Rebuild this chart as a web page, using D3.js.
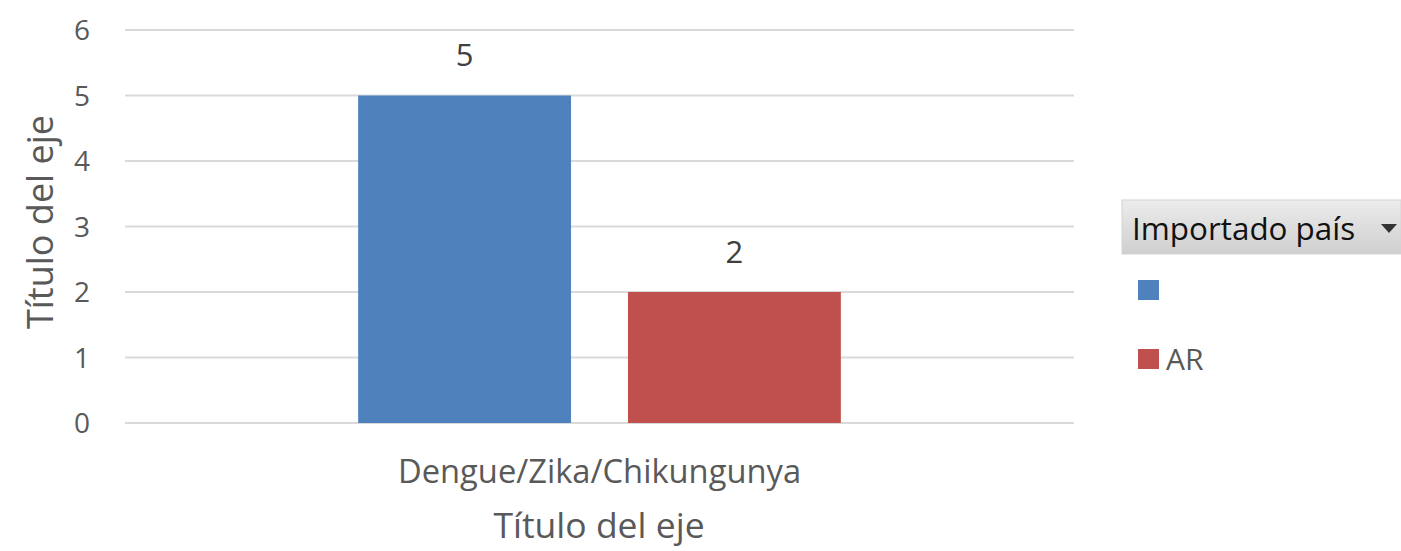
<!DOCTYPE html>
<html>
<head>
<meta charset="utf-8">
<script src="https://cdn.jsdelivr.net/npm/d3@7"></script>
<style>
  body { margin: 0; background: #fff; }
  text { font-family: "Open Sans", sans-serif; }
</style>
</head>
<body>
<script>
// datos del gráfico
let categorias = ["Dengue/Zika/Chikungunya"];
let series = ["", "AR"];
let valores = [[5, 2]]; // por categoría, un valor por serie
let ticksY = [0, 1, 2, 3, 4, 5, 6];
let colores = ["#4f81bd", "#c0504d"];

let WIDTH = 1401, HEIGHT = 551;
let svg = d3.select("body").append("svg")
            .attr("width", WIDTH)
            .attr("height", HEIGHT);

let mLeft = 125, mRight = 1074, mTop = 30, mBottom = 423;

let y = d3.scaleLinear().domain([0, 6]).range([mBottom, mTop]);
let x = d3.scaleBand().domain(categorias).range([mLeft, mRight])
          .paddingInner(0).paddingOuter(0.483);
let xs = d3.scaleBand().domain(series).range([0, x.bandwidth()])
           .paddingInner(0.211).paddingOuter(0);

// grilla
svg.append("g").selectAll("line").data(ticksY).enter().append("line")
   .attr("x1", mLeft).attr("x2", mRight)
   .attr("y1", d => y(d)).attr("y2", d => y(d))
   .attr("stroke", "#d9d9d9").attr("stroke-width", 2);

// eje y
let yAxis = d3.axisLeft(y).tickValues(ticksY).tickFormat(d3.format("d")).tickSize(0).tickPadding(0);
let gy = svg.append("g").attr("transform", `translate(${mLeft - 35},0)`).call(yAxis);
gy.select(".domain").remove();
gy.selectAll("text").attr("font-size", 28).attr("fill", "#595959")
  .attr("font-family", "Open Sans").attr("dy", "0.35em");

// barras
let grupos = svg.append("g").selectAll("g").data(categorias).enter().append("g")
   .attr("transform", d => `translate(${x(d)},0)`);

grupos.selectAll("rect").data((d, i) => valores[i].map((v, j) => ({s: series[j], v: v, j: j})))
   .enter().append("rect")
   .attr("x", d => xs(d.s)).attr("width", xs.bandwidth())
   .attr("y", d => y(d.v)).attr("height", d => y(0) - y(d.v))
   .attr("fill", d => colores[d.j]);

// etiquetas de datos
grupos.selectAll("text.lbl").data((d, i) => valores[i].map((v, j) => ({s: series[j], v: v})))
   .enter().append("text").attr("class", "lbl")
   .attr("x", d => xs(d.s) + xs.bandwidth() / 2)
   .attr("y", d => y(d.v) - 40)
   .attr("text-anchor", "middle").attr("dy", "0.35em")
   .attr("font-size", 31).attr("fill", "#404040")
   .text(d => d.v);

// eje x
let xAxis = d3.axisBottom(x).tickSize(0).tickPadding(0);
let gx = svg.append("g").attr("transform", `translate(0,${mBottom + 49})`).call(xAxis);
gx.select(".domain").remove();
gx.selectAll("text").attr("font-size", 32.7).attr("fill", "#595959")
  .attr("font-family", "Open Sans").attr("dy", "0.35em").attr("y", 0);

// títulos de ejes
svg.append("text").attr("x", 599).attr("y", 526)
   .attr("text-anchor", "middle").attr("dy", "0.35em")
   .attr("font-size", 35.5).attr("fill", "#595959").text("Título del eje");
svg.append("text").attr("transform", "translate(40,222) rotate(-90)")
   .attr("text-anchor", "middle").attr("dy", "0.35em")
   .attr("font-size", 36).attr("fill", "#595959").text("Título del eje");

// leyenda
let defs = svg.append("defs");
let grad = defs.append("linearGradient").attr("id", "hdr")
   .attr("x1", 0).attr("x2", 0).attr("y1", 0).attr("y2", 1);
grad.append("stop").attr("offset", "0%").attr("stop-color", "#ececec");
grad.append("stop").attr("offset", "100%").attr("stop-color", "#cfcfcf");

let leg = svg.append("g");
leg.append("rect").attr("x", 1122).attr("y", 200).attr("width", 279).attr("height", 54)
   .attr("fill", "url(#hdr)").attr("stroke", "#d4d4d4");
leg.append("text").attr("x", 1132).attr("y", 229).attr("dy", "0.35em")
   .attr("font-size", 31.4).attr("fill", "#111").text("Importado país");
leg.append("path").attr("d", "M1381,224 L1397,224 L1389,233 Z").attr("fill", "#333");

let items = leg.selectAll("g.item").data(series).enter().append("g").attr("class", "item")
   .attr("transform", (d, i) => `translate(1138,${290 + i * 69})`);
items.append("rect").attr("x", 0).attr("y", -10).attr("width", 21).attr("height", 20)
   .attr("fill", (d, i) => colores[i]);
items.append("text").attr("x", 28).attr("y", 0).attr("dy", "0.35em")
   .attr("font-size", 30).attr("fill", "#595959").text(d => d);
</script>
</body>
</html>
